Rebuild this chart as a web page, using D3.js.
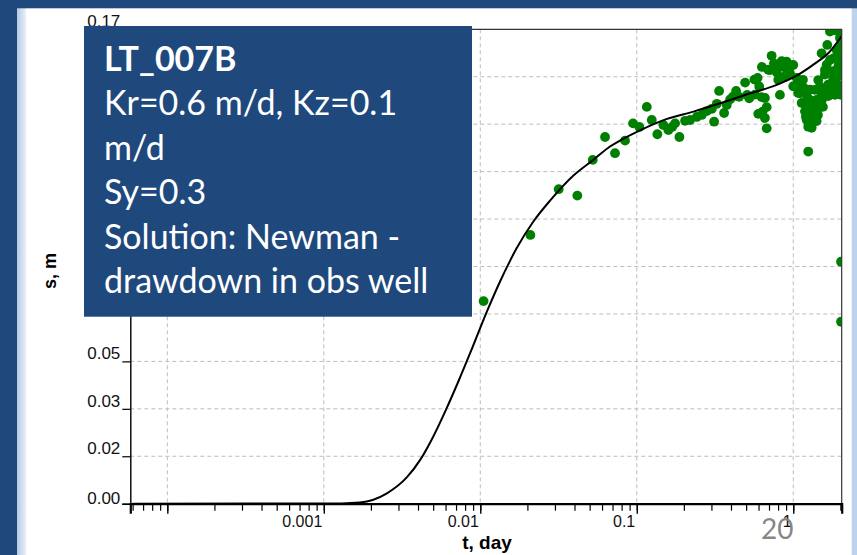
<!DOCTYPE html>
<html>
<head>
<meta charset="utf-8">
<script src="https://cdn.jsdelivr.net/npm/d3@7"></script>
<style>
  html, body { margin: 0; padding: 0; background: #1F497D; overflow: hidden; }
  svg { display: block; }
</style>
</head>
<body>
<svg id="slide" width="857" height="555"></svg>
<script>
// Observed drawdown in the observation well: time (day) and drawdown (m)
const obsTime = [
  0.0105, 0.0209, 0.0317, 0.0417, 0.0523, 0.0627, 0.0726, 0.0842, 0.0947, 0.1039,
  0.1159, 0.1247, 0.1354, 0.1479, 0.1592, 0.1681, 0.1758, 0.1873, 0.2036, 0.2192,
  0.2418, 0.2603, 0.2803, 0.3017, 0.312, 0.3247, 0.3359, 0.3615, 0.3762, 0.3951,
  0.4128, 0.4314, 0.451, 0.4925, 0.5073, 0.5233, 0.565, 0.6062, 0.5975, 0.6279,
  0.6371, 0.6762, 0.6762, 0.659, 0.710, 0.7275, 0.7526, 0.6922, 0.802, 0.8221,
  0.8432, 0.8632, 0.9073, 0.9291, 0.9526, 1.0, 1.0, 1.0513, 1.0763, 1.104,
  1.132, 1.1585, 1.188, 1.205, 1.218, 1.247, 1.247, 1.311, 1.279, 1.311,
  1.342, 1.342, 1.411, 1.411, 1.4447, 1.481, 1.518, 1.518, 1.594, 1.594,
  1.635, 1.674, 1.716, 1.716, 1.802, 1.802, 1.895, 1.895, 1.94, 1.94,
  1.988, 1.988, 2.02, 2.02, 0.592, 0.569, 0.6279, 0.659, 0.7638, 1.153,
  1.218, 1.376, 1.4447, 1.548, 1.674, 1.80, 1.895, 1.988, 1.988, 1.279,
  1.0513, 0.9667, 0.7833, 0.8759, 1.895, 1.317, 1.438, 1.525, 1.618, 1.743,
  1.847, 1.932, 1.279, 1.17, 2.02, 2.02, 2.02, 1.82, 1.65, 0.6306,
  0.898
];
const obsDrawdown = [
  0.0726, 0.0963, 0.1127, 0.1104, 0.1232, 0.1314, 0.1256, 0.1301, 0.1363, 0.1350,
  0.1422, 0.1375, 0.1324, 0.1357, 0.1339, 0.1350, 0.1363, 0.1314, 0.1372, 0.1375,
  0.1386, 0.1393, 0.1407, 0.1415, 0.1369, 0.1433, 0.1479, 0.1400, 0.1429, 0.1449,
  0.1459, 0.1479, 0.1458, 0.1509, 0.1465, 0.1453, 0.1520, 0.1495, 0.1397, 0.1457,
  0.1405, 0.1421, 0.1345, 0.1382, 0.1554, 0.1605, 0.1578, 0.1555, 0.1519, 0.1465,
  0.1586, 0.1566, 0.1584, 0.1538, 0.1543, 0.1572, 0.1496, 0.1495, 0.1472, 0.1471,
  0.1436, 0.1435, 0.1406, 0.1387, 0.1376, 0.1351, 0.1262, 0.1347, 0.1484, 0.1424,
  0.1411, 0.1394, 0.1447, 0.1371, 0.1418, 0.1495, 0.1614, 0.1466, 0.1554, 0.1538,
  0.1573, 0.1502, 0.1590, 0.1692, 0.1550, 0.1525, 0.1626, 0.1526, 0.1586, 0.1566,
  0.1669, 0.1692, 0.0867, 0.0652, 0.1526, 0.1466, 0.1400, 0.1454, 0.1573, 0.1519,
  0.1465, 0.1483, 0.1518, 0.1422, 0.1461, 0.1483, 0.1490, 0.1608, 0.1536, 0.1382,
  0.1526, 0.1569, 0.1546, 0.1530, 0.1695, 0.1368, 0.1393, 0.1447, 0.1483, 0.1505,
  0.1465, 0.1501, 0.1447, 0.1490, 0.1644, 0.1572, 0.1465, 0.1597, 0.1644, 0.1565,
  0.1561
];

// Fitted Neuman type curve (drawdown in observation well)
const curveTime = [
  0.00006, 0.0013, 0.0017, 0.00253, 0.0034, 0.00413, 0.0050, 0.00605, 0.00723, 0.00884,
  0.0110, 0.0134, 0.0171, 0.0219, 0.0280, 0.0394, 0.0530, 0.0678, 0.0785, 0.105,
  0.156, 0.231, 0.342, 0.507, 0.769, 1.03, 1.38, 1.68, 2.04
];
const curveDrawdown = [
  0, 0.0001, 0.0004, 0.0037, 0.0095, 0.0157, 0.0240, 0.0338, 0.0437, 0.0555,
  0.0687, 0.0797, 0.0916, 0.1012, 0.1087, 0.1176, 0.1233, 0.1281, 0.1302, 0.1338,
  0.1379, 0.1405, 0.1435, 0.1467, 0.1499, 0.1531, 0.1578, 0.1615, 0.1676
];

// Axis ticks
const xMajorTicks = [0.0001, 0.001, 0.01, 0.1, 1];
const xLabelValues = [0.001, 0.01, 0.1, 1];
const xLabelText = ["0.001", "0.01", "0.1", "1"];
const yTickValues = [0, 0.017, 0.034, 0.051, 0.068, 0.085, 0.102, 0.119, 0.136, 0.153, 0.17];
const yTickText = ["0.00", "0.02", "0.03", "0.05", "0.07", "0.09", "0.10", "0.12", "0.14", "0.15", "0.17"];

// Annotation box lines
const noteLines = [
  "LT_007B",
  "Kr=0.6 m/d, Kz=0.1",
  "m/d",
  "Sy=0.3",
  "Solution: Newman -",
  "drawdown in obs well"
];
const slideNumber = "20";

// ---------------------------------------------------------------------------
const svg = d3.select("#slide");
const W = 857, H = 555;
const plot = { left: 130.3, right: 841.7, top: 29.3, bottom: 503.7 };
const noteBox = { x: 84, y: 26, w: 388, h: 290.7 };

const x = d3.scaleLog().domain([5.8e-5, 2.04]).range([plot.left, plot.right]);
const y = d3.scaleLinear().domain([0, 0.17]).range([plot.bottom, plot.top]);

// Slide background and frame strips
const defs = svg.append("defs");
const grad = defs.append("linearGradient").attr("id", "edge").attr("x1", 0).attr("x2", 1);
grad.append("stop").attr("offset", 0).attr("stop-color", "#b4cbe6");
grad.append("stop").attr("offset", 1).attr("stop-color", "#e9f0f8");
defs.append("clipPath").attr("id", "plotClip")
  .append("rect").attr("x", plot.left).attr("y", plot.top)
  .attr("width", plot.right - plot.left).attr("height", plot.bottom - plot.top);

svg.append("rect").attr("width", W).attr("height", H).attr("fill", "#1F497D");
svg.append("rect").attr("x", 17).attr("y", 8.3).attr("width", 9).attr("height", H).attr("fill", "url(#edge)");
svg.append("rect").attr("x", 26).attr("y", 8.3).attr("width", 826).attr("height", H).attr("fill", "#ffffff");
svg.append("rect").attr("x", 851.7).attr("y", 8.3).attr("width", 6).attr("height", H).attr("fill", "#bdd3ec");

// Grid
const grid = svg.append("g").attr("stroke", "#bdbdbd").attr("stroke-width", 1).attr("stroke-dasharray", "4,3");
grid.selectAll("line.v").data(xMajorTicks).join("line")
  .attr("x1", d => x(d)).attr("x2", d => x(d))
  .attr("y1", plot.top).attr("y2", plot.bottom);
grid.selectAll("line.h").data(yTickValues.slice(1, -1)).join("line")
  .attr("x1", plot.left).attr("x2", plot.right)
  .attr("y1", d => y(d)).attr("y2", d => y(d));

// Observations and fitted curve
const marks = svg.append("g").attr("clip-path", "url(#plotClip)");
marks.selectAll("circle").data(d3.range(obsTime.length)).join("circle")
  .attr("cx", i => x(obsTime[i]))
  .attr("cy", i => y(obsDrawdown[i]))
  .attr("r", 4.9)
  .attr("fill", "#008000");

const line = d3.line()
  .x(i => x(curveTime[i]))
  .y(i => y(curveDrawdown[i]))
  .curve(d3.curveMonotoneX);
marks.append("path").datum(d3.range(curveTime.length))
  .attr("d", line).attr("fill", "none")
  .attr("stroke", "#000").attr("stroke-width", 2);

// Frame (top and right)
svg.append("path")
  .attr("d", `M${plot.left},${plot.top}H${plot.right}V${plot.bottom}`)
  .attr("fill", "none").attr("stroke", "#333").attr("stroke-width", 1.2);

// X axis: minor ticks, major ticks and labels
const xMinor = svg.append("g").attr("transform", `translate(0,${plot.bottom})`)
  .call(d3.axisBottom(x).tickValues(x.ticks()).tickSize(7).tickFormat(""));
xMinor.select(".domain").remove();
xMinor.selectAll("line").attr("stroke", "#000").attr("stroke-width", 1.2);

const xMajor = svg.append("g").attr("transform", `translate(0,${plot.bottom})`)
  .call(d3.axisBottom(x).tickValues(xMajorTicks).tickSize(10)
    .tickFormat(d => { const k = xLabelValues.indexOf(d); return k < 0 ? "" : xLabelText[k]; }));
xMajor.select(".domain").attr("stroke", "#000").attr("stroke-width", 2.2);
xMajor.selectAll("line").attr("stroke", "#000").attr("stroke-width", 1.4);
xMajor.selectAll("text")
  .attr("text-anchor", "end").attr("x", -2).attr("y", 23).attr("dy", 0)
  .attr("fill", "#111").style("font", "16px 'Liberation Sans', Arial, sans-serif");

// Y axis (labels sit just above their tick; those lying wholly behind the note box are not drawn)
const yAxis = svg.append("g").attr("transform", `translate(${plot.left},0)`)
  .call(d3.axisLeft(y).tickValues(yTickValues).tickSize(8)
    .tickFormat((d, i) => yTickText[i]));
yAxis.select(".domain").attr("stroke", "#000").attr("stroke-width", 1.4);
yAxis.selectAll("line").attr("stroke", "#000").attr("stroke-width", 1.2);
yAxis.selectAll("text")
  .attr("x", -10).attr("dy", -2.5).attr("text-anchor", "end")
  .attr("fill", "#111").style("font", "17px 'Liberation Sans', Arial, sans-serif")
  .style("display", d => (y(d) - 16 > noteBox.y && y(d) < noteBox.y + noteBox.h) ? "none" : null);
yAxis.select(".tick:first-of-type text").attr("dy", -0.5);

// Axis titles
svg.append("text").text("t, day")
  .attr("x", 487).attr("y", 549).attr("text-anchor", "middle")
  .style("font", "bold 19px 'Liberation Sans', Arial, sans-serif").attr("fill", "#000");
svg.append("text").text("s, m")
  .attr("transform", "translate(56,271) rotate(-90)").attr("text-anchor", "middle")
  .style("font", "bold 18px 'Liberation Sans', Arial, sans-serif").attr("fill", "#000");

// Annotation box
const note = svg.append("g");
note.append("rect").attr("x", noteBox.x).attr("y", noteBox.y)
  .attr("width", noteBox.w).attr("height", noteBox.h)
  .attr("fill", "#1F497D");
note.selectAll("text").data(noteLines).join("text")
  .attr("x", 104).attr("y", (d, i) => 70.7 + i * 44.5)
  .attr("fill", "#ffffff")
  .style("font-family", "Lato, 'Open Sans', sans-serif")
  .style("font-size", "34px")
  .style("font-weight", (d, i) => i === 0 ? 700 : 400)
  .text(d => d);

// Slide number
svg.append("text").text(slideNumber)
  .attr("x", 761).attr("y", 538.5)
  .attr("fill", "#808080").attr("fill-opacity", 0.95)
  .style("font", "28px Lato, 'Open Sans', sans-serif");
</script>
</body>
</html>
